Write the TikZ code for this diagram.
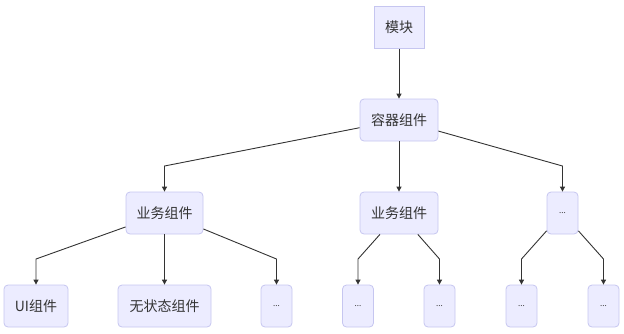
\documentclass[tikz,border=0pt]{standalone}
\usepackage{fontspec}
\setmainfont{Noto Sans CJK SC}
\usetikzlibrary{arrows.meta}
\definecolor{boxfill}{HTML}{ECECFF}
\definecolor{boxline}{HTML}{C6C6F0}
\definecolor{edgecol}{HTML}{333333}
\newcommand{\moredots}{\fontsize{8}{10}\selectfont ...}
\begin{document}
\begin{tikzpicture}[x=1pt, y=-1pt,
  every node/.style={font=\fontsize{14}{16}\selectfont, text=edgecol, fill=boxfill, draw=boxline,
    line width=0.8pt, minimum height=42pt, inner sep=0pt, rounded corners=4pt},
  >={Triangle[length=5pt, width=5pt]}]
  \useasboundingbox (0,0) rectangle (624,333);
  \node[rounded corners=0pt, minimum width=50pt] (mk) at (399,27.5) {模块};
  \node[minimum width=78pt] (rq) at (399,120) {容器组件};
  \node[minimum width=77pt] (yw1) at (164.5,213) {业务组件};
  \node[minimum width=78pt] (yw2) at (399,213) {业务组件};
  \node[minimum width=31pt] (dt) at (562.5,213) {\moredots};
  \node[minimum width=64pt] (ui) at (36,306) {UI组件};
  \node[minimum width=93pt] (wz) at (164.5,306) {无状态组件};
  \node[minimum width=31pt] (d1) at (276.5,306) {\moredots};
  \node[minimum width=31pt] (d2) at (358,306) {\moredots};
  \node[minimum width=31pt] (d3) at (439.5,306) {\moredots};
  \node[minimum width=31pt] (d4) at (521.5,306) {\moredots};
  \node[minimum width=31pt] (d5) at (603.5,306) {\moredots};
  % rows where the connectors turn down
  \coordinate (k1) at (0,166);
  \coordinate (k2) at (0,259);
  \begin{scope}[draw=edgecol, line width=0.9pt]
    \draw[->] (mk) -- (rq);
    \draw[->] (rq) -- (yw1 |- k1) -- (yw1);
    \draw[->] (rq) -- (yw2);
    \draw[->] (rq) -- (dt |- k1) -- (dt);
    \draw[->] (yw1) -- (ui |- k2) -- (ui);
    \draw[->] (yw1) -- (wz);
    \draw[->] (yw1) -- (d1 |- k2) -- (d1);
    \draw[->] (yw2) -- (d2 |- k2) -- (d2);
    \draw[->] (yw2) -- (d3 |- k2) -- (d3);
    \draw[->] (dt) -- (d4 |- k2) -- (d4);
    \draw[->] (dt) -- (d5 |- k2) -- (d5);
  \end{scope}
\end{tikzpicture}
\end{document}
